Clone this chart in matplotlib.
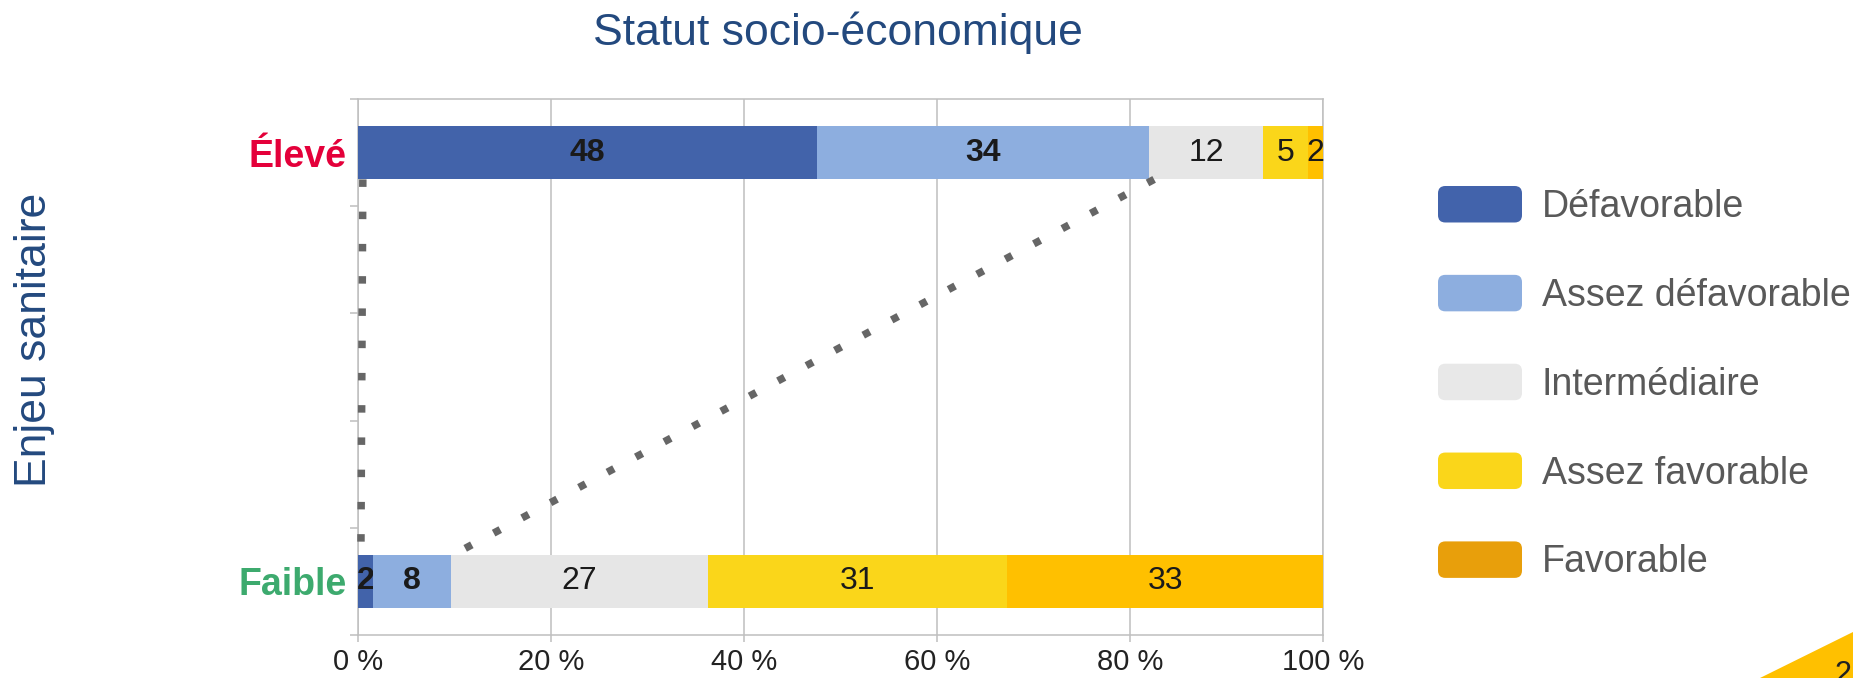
import matplotlib
matplotlib.use("Agg")
import matplotlib.pyplot as plt
from matplotlib import font_manager as fm
from matplotlib.patches import Patch, FancyBboxPatch, Polygon
from matplotlib.legend_handler import HandlerPatch
import numpy as np

# ---------------- data ----------------
categories = ["Faible", "Élevé"]           # y positions 0, 1
category_colors = ["#3DAA6E", "#E4003A"]
series_names = ["Défavorable", "Assez défavorable", "Intermédiaire",
                "Assez favorable", "Favorable"]
faible_values = [1.6, 8.0, 26.7, 31.0, 32.7]
eleve_values = [47.6, 34.4, 11.8, 4.6, 1.6]
faible_labels = ["2", "8", "27", "31", "33"]
eleve_labels = ["48", "34", "12", "5", "2"]
bar_colors = ["#4263AA", "#8DAEDF", "#E6E6E6", "#FAD61A", "#FFC000"]
legend_colors = ["#4263AB", "#8DAEDF", "#E8E8E8", "#FAD61A", "#E89F0B"]
bold_series = [True, True, False, False, False]
x_ticks = [0, 20, 40, 60, 80, 100]
x_tick_labels = ["0 %", "20 %", "40 %", "60 %", "80 %", "100 %"]
title = "Statut socio-économique"
y_title = "Enjeu sanitaire"
page_number = "2"
# connectors: number of leading segments summed at each end
connector_segments = [0, 2]

# ---------------- fonts ----------------
names = {f.name for f in fm.fontManager.ttflist}
plt.rcParams['font.family'] = ['Liberation Sans', 'DejaVu Sans']
narrow = 'Liberation Sans Narrow' in names

# ---------------- figure ----------------
fig = plt.figure(figsize=(18.53, 6.78), dpi=100)
ax = fig.add_axes([358/1853, 1-635/678, (1323-358)/1853, (635-99)/678])

bar_h = 0.125
values = np.array([faible_values, eleve_values])
labels = [faible_labels, eleve_labels]
lefts = np.zeros(2)
for i, name in enumerate(series_names):
    cont = ax.barh([0, 1], values[:, i], left=lefts, height=bar_h,
                   color=bar_colors[i], edgecolor='none', zorder=3)
    ax.bar_label(cont, labels=[labels[0][i], labels[1][i]], label_type='center',
                 fontsize=23, color='#1A1A1A',
                 fontweight='bold' if bold_series[i] else 'normal')
    lefts = lefts + values[:, i]

# dotted connectors
cum_f = np.concatenate([[0], np.cumsum(faible_values)])
cum_e = np.concatenate([[0], np.cumsum(eleve_values)])
for k in connector_segments:
    xe = cum_e[k] + 0.5
    xf = cum_f[k] + 0.3
    ax.plot([xe, xf], [1 - bar_h/2, bar_h/2], color='#666666', lw=5.4,
            linestyle=(0, (1, 3.3)), dash_capstyle='butt', zorder=4,
            clip_on=False)

ax.set_xlim(0, 100)
ax.set_ylim(-0.125, 1.125)
ax.set_xticks(x_ticks)
ax.set_xticklabels(x_tick_labels, fontsize=21, color='#222222')
ax.tick_params(axis='x', length=5, width=1.1, color='#BFBFBF', pad=4.5)
ax.set_yticks([0, 1])
ytl = ax.set_yticklabels(categories, fontweight='bold',
                         fontsize=32 if narrow else 27)
for t, c in zip(ytl, category_colors):
    t.set_color(c)
    if narrow:
        t.set_family(['Liberation Sans Narrow', 'Liberation Sans'])
ax.tick_params(axis='y', which='major', length=0, pad=8)
ax.set_yticks([-0.125, 0.125, 0.375, 0.625, 0.875, 1.125], minor=True)
ax.tick_params(axis='y', which='minor', length=6, width=1.1, color='#BFBFBF')
ax.grid(axis='x', color='#BFBFBF', lw=1.1, zorder=0)
ax.set_axisbelow(True)
for s in ax.spines.values():
    s.set_color('#BFBFBF')
    s.set_linewidth(1.1)

# titles
fig.text(838/1853, 1-45/678, title, ha='center', va='baseline',
         fontsize=32, color='#23497E')
fig.text(35/1853, 1-340/678, y_title, ha='center', va='center',
         rotation=90, fontsize=32, color='#23497E')

# legend with rounded patches
def rounded(legend, orig_handle, xdescent, ydescent, width, height, fontsize):
    r = 0.2 * height
    return FancyBboxPatch((-xdescent, -ydescent), width, height,
                          boxstyle=f"round,pad=0,rounding_size={r}")

handles = [Patch(facecolor=c, edgecolor='none') for c in legend_colors]
leg = fig.legend(handles, series_names, loc='upper left',
                 bbox_to_anchor=(1438/1853, 1-186/678), frameon=False,
                 fontsize=27, labelcolor='#595959', borderpad=0,
                 borderaxespad=0, handlelength=2.24, handleheight=1.12,
                 handletextpad=0.53, labelspacing=1.33,
                 handler_map={Patch: HandlerPatch(patch_func=rounded)})

# page corner
fig.patches.append(Polygon([(1760/1853, 0), (1, 1-632/678), (1, 0)],
                           closed=True, transform=fig.transFigure,
                           facecolor='#FFC000', edgecolor='none'))
fig.text(1835/1853, 1-660/678, page_number, ha='left', va='top',
         fontsize=22, color='#222222')

fig.savefig("out.png", dpi=100)
